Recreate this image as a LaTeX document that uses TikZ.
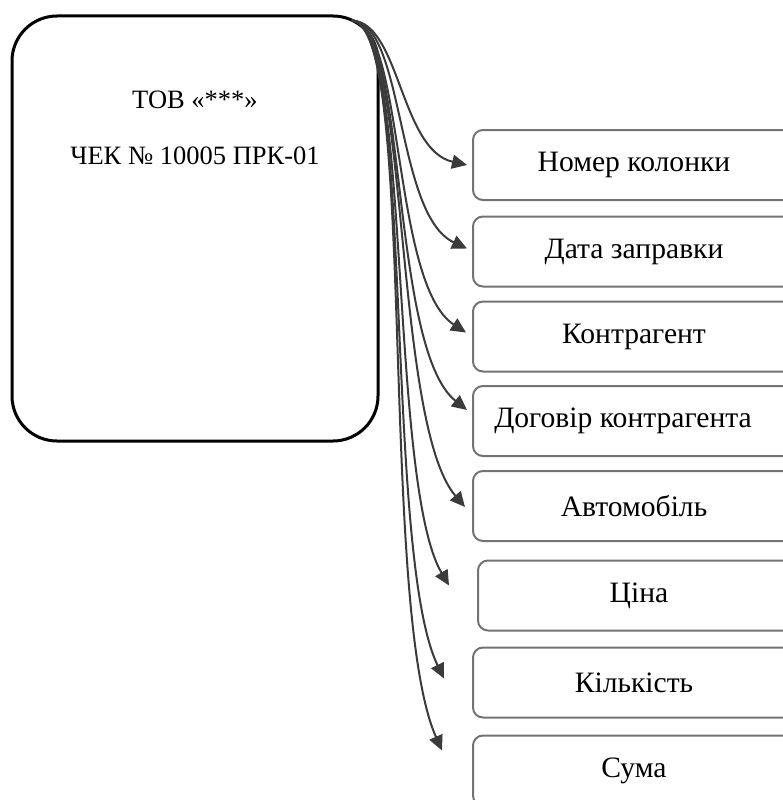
\documentclass[tikz,border=0pt]{standalone}
\usepackage{fontspec}
\setmainfont{Liberation Serif}
\usetikzlibrary{arrows.meta,calc}

\begin{document}
\begin{tikzpicture}[x=1pt, y=-1pt,
    field/.style={draw=gray!90!black, line width=2pt, rounded corners=10pt, fill=white,
        minimum width=322pt, minimum height=70pt, inner sep=0pt,
        font=\fontsize{29.6}{34}\selectfont},
    link/.style={draw=black!77, line width=2pt, -{Triangle[length=15pt,width=14pt]}},
    every node/.style={font=\fontsize{26.5}{30}\selectfont}]
    \useasboundingbox (0,0) rectangle (783,800);
    \clip (0,0) rectangle (783,800);

    \node[draw, line width=3pt, rounded corners=45pt, minimum width=366pt, minimum height=425pt] (cheque) at (195,228.5) {};
    \node (firm) at (195,100) {ТОВ «***»};
    \node (chequeno) at (195,156) {ЧЕК № 10005 ПРК-01};

    \node[field] (pump) at (634,165) {Номер колонки};
    \node[field] (date) at (634,251.5) {Дата заправки};
    \node[field] (partner) at (634,336.5) {Контрагент};
    \node[field] (contract) at (634,421) {\hspace*{-22pt}Договір контрагента};
    \node[field] (car) at (634,506) {Автомобіль};
    \node[field] (price) at (639,595.5) {Ціна};
    \node[field] (qty) at (634,682.5) {Кількість};
    \node[field] (total) at (634,770.5) {Сума};

    \coordinate (src) at ($(cheque.north east)+(-28,6)$);
    \draw[link] (src) .. controls (400,22) and (400,150) .. ($(pump.west)+(-5,0)$);
    \draw[link] (src) .. controls (405,22) and (395,215) .. ($(date.west)+(-5,-3)$);
    \draw[link] (src) .. controls (405,22) and (391,284) .. ($(partner.west)+(-6,-4)$);
    \draw[link] (src) .. controls (408,22) and (389,348) .. ($(contract.west)+(-5,-11)$);
    \draw[link] (src) .. controls (410,22) and (392,422) .. ($(car.west)+(-7,1)$);
    \draw[link] (src) .. controls (412,22) and (388,482) .. ($(price.west)+(-28,-10)$);
    \draw[link] (src) .. controls (415,22) and (383,553) .. ($(qty.west)+(-28,-4)$);
    \draw[link] (src) .. controls (418,22) and (378,607) .. ($(total.west)+(-30,-20)$);
\end{tikzpicture}
\end{document}
